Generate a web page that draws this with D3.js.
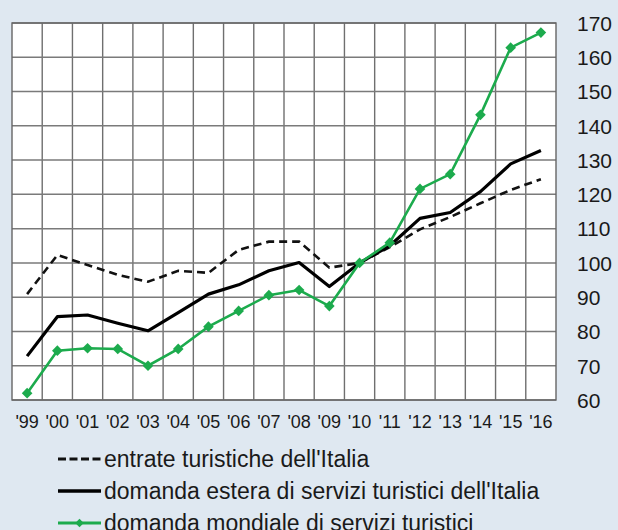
<!DOCTYPE html>
<html>
<head>
<meta charset="utf-8">
<script src="https://cdn.jsdelivr.net/npm/d3@7"></script>
<style>
  body { margin: 0; background: #dfe8f1; }
  svg { display: block; font-family: 'Liberation Sans', Arial, sans-serif; }
</style>
</head>
<body>
<script>
// data
let years = ["'99", "'00", "'01", "'02", "'03", "'04", "'05", "'06", "'07", "'08", "'09", "'10", "'11", "'12", "'13", "'14", "'15", "'16"];
let entrate = [90.9, 102.3, 99.4, 96.5, 94.5, 97.7, 97.1, 103.8, 106.2, 106.2, 98.6, 100, 104.6, 109.8, 113.4, 117.4, 121.3, 124.4];
let domandaEstera = [72.8, 84.3, 84.8, 82.4, 80.2, 85.5, 90.9, 93.6, 97.7, 100.1, 93.1, 100, 105.0, 113.0, 114.7, 120.8, 128.9, 132.8];
let domandaMondiale = [62.0, 74.4, 75.1, 74.9, 70.0, 74.9, 81.4, 86.0, 90.6, 92.1, 87.4, 100, 105.9, 121.6, 125.9, 143.2, 162.8, 167.2];
let yTicks = [60, 70, 80, 90, 100, 110, 120, 130, 140, 150, 160, 170];
let legendLabels = ["entrate turistiche dell'Italia", "domanda estera di servizi turistici dell'Italia", "domanda mondiale di servizi turistici"];

// canvas
let width = 618;
let height = 530;
let plot = { left: 12, right: 556, top: 23, bottom: 400 };
let green = '#1cab4d';

let svg = d3.select('body').append('svg')
   .attr('width', width)
   .attr('height', height);

let x = d3.scaleBand()
   .domain(years)
   .range([plot.left, plot.right])
   .padding(0);

let y = d3.scaleLinear()
   .domain([60, 170])
   .range([plot.bottom, plot.top]);

// plot background
svg.append('rect')
   .attr('x', plot.left)
   .attr('y', plot.top)
   .attr('width', plot.right - plot.left)
   .attr('height', plot.bottom - plot.top)
   .attr('fill', '#fff');

// grid: vertical lines between columns
svg.append('g')
   .selectAll('line')
   .data(years.slice(1))
   .enter()
   .append('line')
      .attr('x1', (d) => x(d))
      .attr('x2', (d) => x(d))
      .attr('y1', plot.top)
      .attr('y2', plot.bottom)
      .attr('stroke', '#6f6f6f')
      .attr('stroke-width', 1.4);

// grid: horizontal lines
svg.append('g')
   .selectAll('line')
   .data(yTicks)
   .enter()
   .append('line')
      .attr('x1', plot.left)
      .attr('x2', plot.right)
      .attr('y1', (d) => y(d))
      .attr('y2', (d) => y(d))
      .attr('stroke', '#7a7a7a')
      .attr('stroke-width', 1.5);

// frame
svg.append('rect')
   .attr('x', plot.left)
   .attr('y', plot.top)
   .attr('width', plot.right - plot.left)
   .attr('height', plot.bottom - plot.top)
   .attr('fill', 'none')
   .attr('stroke', '#666')
   .attr('stroke-width', 1.4);

// right axis labels
let yAxis = d3.axisRight(y)
   .tickValues(yTicks)
   .tickSize(0)
   .tickPadding(0);

svg.append('g')
   .attr('transform', 'translate(' + (plot.right + 21) + ',0)')
   .call(yAxis)
   .call((g) => g.select('.domain').remove())
   .selectAll('text')
      .attr('font-size', 21)
      .attr('fill', '#1a1a1a')
      .attr('text-anchor', 'start')
      .attr('dy', '0.35em');

// bottom axis labels
let xAxis = d3.axisBottom(x)
   .tickSize(0)
   .tickPadding(0);

svg.append('g')
   .attr('transform', 'translate(0,' + (plot.bottom + 22) + ')')
   .call(xAxis)
   .call((g) => g.select('.domain').remove())
   .selectAll('text')
      .attr('font-size', 18)
      .attr('fill', '#1a1a1a')
      .attr('dy', '0.35em');

// lines
let line = d3.line()
   .x((d, i) => x(years[i]) + x.bandwidth() / 2)
   .y((d) => y(d));

svg.append('path')
   .datum(entrate)
   .attr('d', line)
   .attr('fill', 'none')
   .attr('stroke', '#111')
   .attr('stroke-width', 2.6)
   .attr('stroke-dasharray', '8,5');

svg.append('path')
   .datum(domandaEstera)
   .attr('d', line)
   .attr('fill', 'none')
   .attr('stroke', '#000')
   .attr('stroke-width', 3.2)
   .attr('stroke-linejoin', 'round');

svg.append('path')
   .datum(domandaMondiale)
   .attr('d', line)
   .attr('fill', 'none')
   .attr('stroke', green)
   .attr('stroke-width', 2.6);

svg.append('g')
   .selectAll('path')
   .data(domandaMondiale)
   .enter()
   .append('path')
      .attr('d', d3.symbol().type(d3.symbolDiamond2).size(72))
      .attr('transform', (d, i) => 'translate(' + (x(years[i]) + x.bandwidth() / 2) + ',' + y(d) + ')')
      .attr('fill', green);

// legend
let legendY = [459, 491, 523];
let legend = svg.append('g');

legend.append('line')
   .attr('x1', 58).attr('x2', 101)
   .attr('y1', legendY[0]).attr('y2', legendY[0])
   .attr('stroke', '#111')
   .attr('stroke-width', 2.8)
   .attr('stroke-dasharray', '8,3.5');

legend.append('line')
   .attr('x1', 58).attr('x2', 101)
   .attr('y1', legendY[1]).attr('y2', legendY[1])
   .attr('stroke', '#000')
   .attr('stroke-width', 3.4);

legend.append('line')
   .attr('x1', 58).attr('x2', 101)
   .attr('y1', legendY[2]).attr('y2', legendY[2])
   .attr('stroke', green)
   .attr('stroke-width', 2.8);

legend.append('path')
   .attr('d', d3.symbol().type(d3.symbolDiamond2).size(45))
   .attr('transform', 'translate(79.5,' + legendY[2] + ')')
   .attr('fill', green);

legend.selectAll('text')
   .data(legendLabels)
   .enter()
   .append('text')
      .attr('x', 104)
      .attr('y', (d, i) => legendY[i])
      .attr('dy', '0.35em')
      .attr('font-size', 23)
      .attr('fill', '#1a1a1a')
      .text((d) => d);
</script>
</body>
</html>
